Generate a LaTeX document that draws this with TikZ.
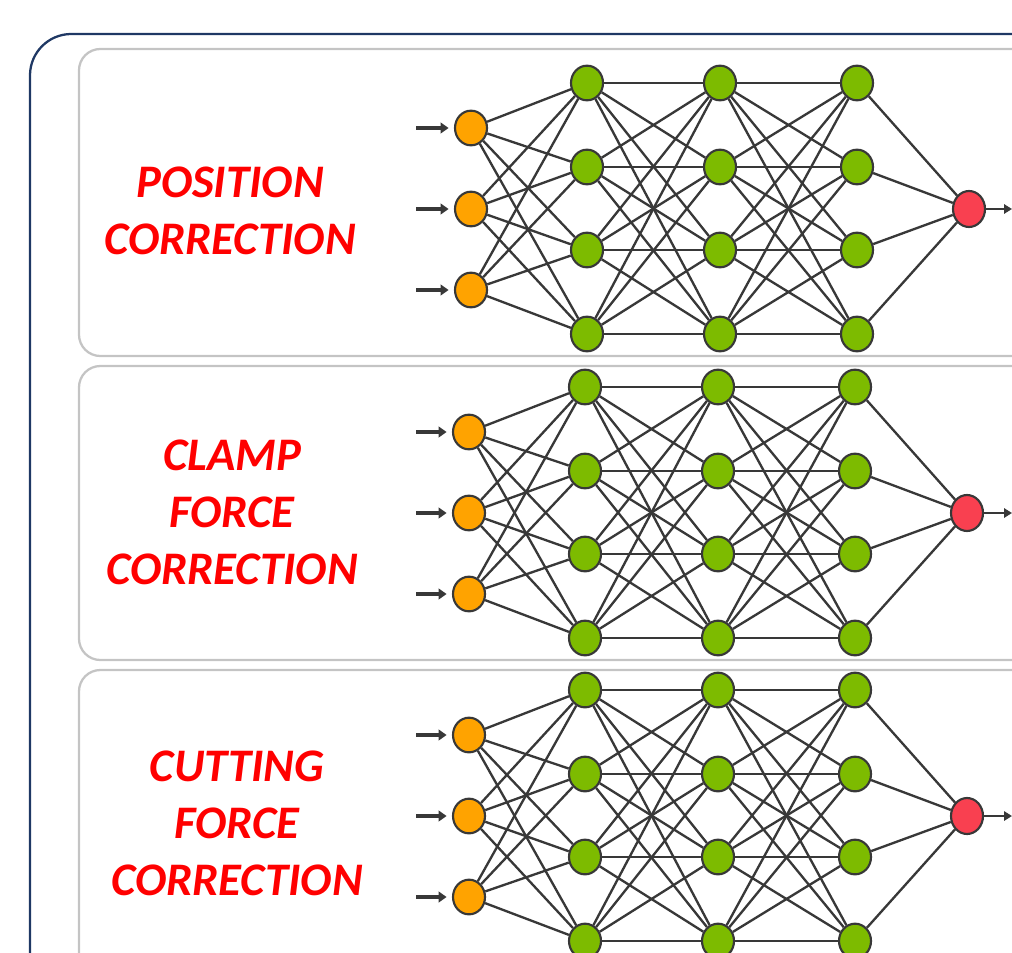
\documentclass[tikz,border=0pt]{standalone}
\usepackage{fontspec}
\setmainfont{Carlito}
\usetikzlibrary{shapes.geometric,arrows.meta}
\definecolor{framenavy}{HTML}{1F3864}
\definecolor{panelgray}{HTML}{C4C4C4}
\definecolor{wiregray}{HTML}{383838}
\definecolor{inorange}{HTML}{FFA300}
\definecolor{hidgreen}{HTML}{7DBB00}
\definecolor{outred}{HTML}{F94050}
\definecolor{titlered}{HTML}{FF0000}
\tikzset{
  outerframe/.style={draw=framenavy, line width=1.7pt, rounded corners=31pt},
  panel/.style={draw=panelgray, line width=1.7pt, rounded corners=16pt},
  neuron/.style={ellipse, draw=wiregray, line width=1.6pt, minimum width=24pt, minimum height=26pt, inner sep=0pt},
  inneuron/.style={neuron, fill=inorange},
  hidneuron/.style={neuron, fill=hidgreen},
  outneuron/.style={neuron, fill=outred, minimum height=27pt},
  wire/.style={draw=wiregray, line width=1.75pt},
  signal/.style={draw=wiregray, line width=2.8pt, -{Triangle[length=6pt,width=8pt]}},
  result/.style={draw=wiregray, line width=1.8pt, -{Triangle[length=6pt,width=7pt]}},
  title/.style={text=titlered, font=\fontsize{35}{42.75}\selectfont\bfseries\itshape, align=center}
}
\begin{document}
\begin{tikzpicture}[x=0.75pt, y=-0.75pt]
\useasboundingbox (0,0) rectangle (1012,952);
\clip (0,0) rectangle (1012,952);

% frame and the three panels
\draw[outerframe] (30,34) rectangle (1100,1100);
\draw[panel] (79,49) rectangle (1080,356);
\draw[panel] (79,366) rectangle (1080,660);
\draw[panel] (79,670) rectangle (1080,1040);

% panel titles
\node[title] (t1) at (230,211) {POSITION\\CORRECTION};
\node[title] (t2) at (232,512) {CLAMP\\FORCE\\CORRECTION};
\node[title] (t3) at (237,823) {CUTTING\\FORCE\\CORRECTION};

% one network per panel: 3 inputs, three hidden layers of 4, one output
\foreach \p/\yc/\dx in {1/209/0, 2/513/-2, 3/816/-2} {
  \foreach \i/\dy in {1/-81, 2/0, 3/81} {
    \node[inneuron] (in\p-\i) at (471+\dx, \yc+\dy) {};
    \coordinate (src\p-\i) at (416, \yc+\dy);
    \draw[signal, shorten >=4pt] (src\p-\i) -- (in\p-\i);
  }
  \foreach \l/\lx in {1/587, 2/720, 3/857} {
    \foreach \j/\dy in {1/-126, 2/-42, 3/41, 4/125} {
      \node[hidneuron] (h\p-\l-\j) at (\lx+\dx, \yc+\dy) {};
    }
  }
  \node[outneuron] (out\p) at (969+\dx, \yc) {};
  \coordinate (res\p) at (1012, \yc);
  \draw[result] (out\p) -- (res\p);

  % weights
  \foreach \i in {1,2,3} \foreach \j in {1,...,4} \draw[wire] (in\p-\i) -- (h\p-1-\j);
  \foreach \j in {1,...,4} \foreach \k in {1,...,4} {
    \draw[wire] (h\p-1-\j) -- (h\p-2-\k);
    \draw[wire] (h\p-2-\j) -- (h\p-3-\k);
  }
  \foreach \j in {1,...,4} \draw[wire] (h\p-3-\j) -- (out\p);
}
\end{tikzpicture}
\end{document}
